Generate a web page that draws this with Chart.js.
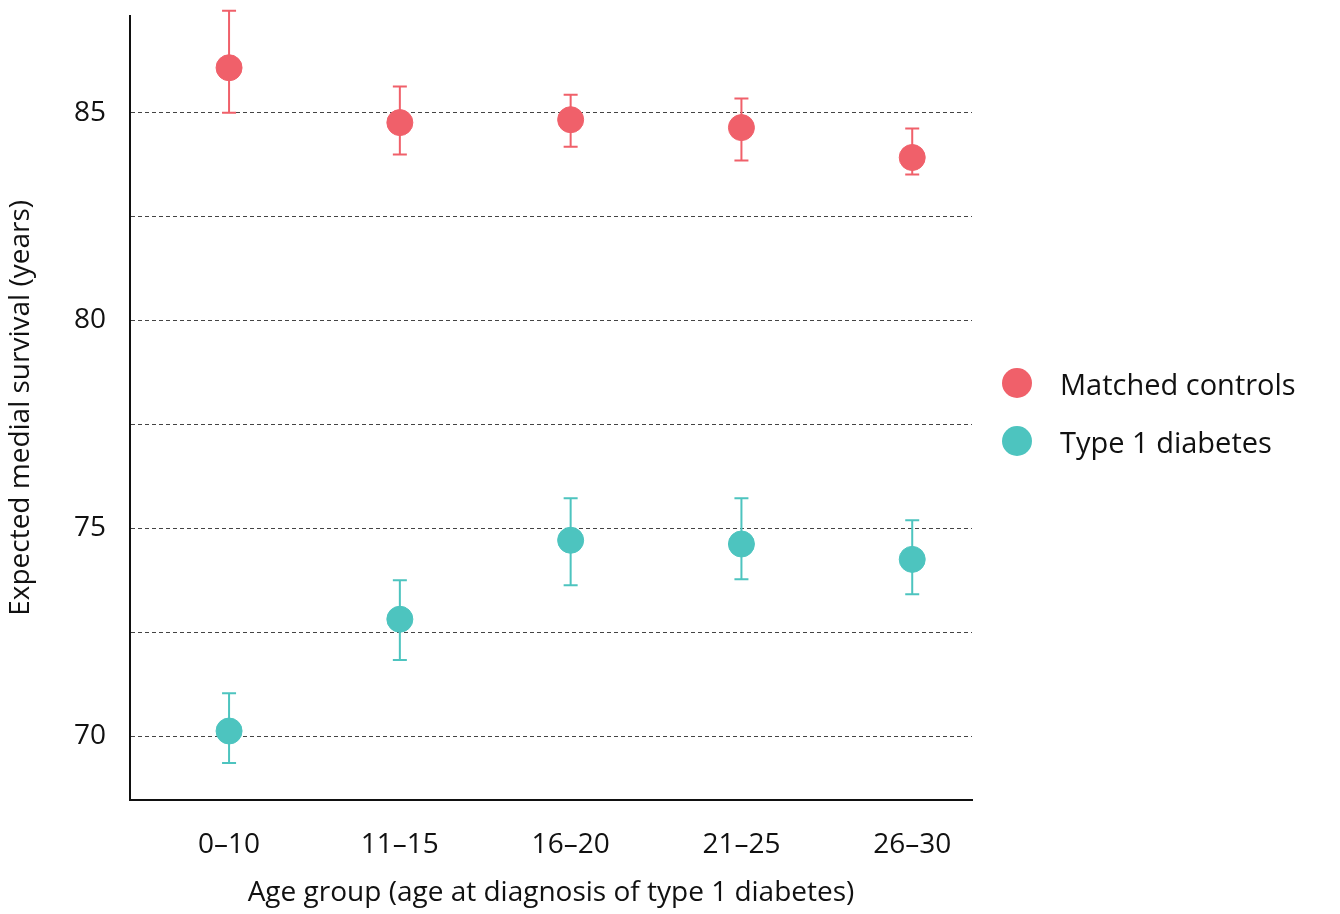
<!DOCTYPE html>
<html>
<head>
<meta charset="utf-8">
<script src="https://cdn.jsdelivr.net/npm/chart.js@4"></script>
<style>
  body { margin: 0; background: #fff; font-family: "Open Sans", sans-serif; overflow: hidden; }
  #wrap { position: relative; width: 1340px; height: 914px; overflow: hidden; }
  #chart { position: absolute; left: 0; top: -25px; }
  #legend { position: absolute; left: 1002px; top: 354px; font-size: 29px; color: #111; }
  .item { display: flex; align-items: center; height: 58px; }
  .dot { width: 30px; height: 30px; border-radius: 50%; margin-right: 28px; }
</style>
</head>
<body>
<div id="wrap">
  <canvas id="chart" width="1340" height="939"></canvas>
  <div id="legend">
    <div class="item"><span class="dot" style="background:#F0606A"></span>Matched controls</div>
    <div class="item"><span class="dot" style="background:#4DC4BF"></span>Type 1 diabetes</div>
  </div>
</div>
<script>
const categories = ['0–10', '11–15', '16–20', '21–25', '26–30'];
const controlsMid = [86.08, 84.76, 84.83, 84.64, 83.92];
const controlsLow = [85.0, 83.99, 84.18, 83.85, 83.51];
const controlsHigh = [87.45, 85.63, 85.43, 85.34, 84.62];
const diabetesMid = [70.12, 72.81, 74.71, 74.62, 74.25];
const diabetesLow = [69.35, 71.83, 73.63, 73.77, 73.41];
const diabetesHigh = [71.03, 73.75, 75.72, 75.72, 75.19];
const yTicks = [70, 72.5, 75, 77.5, 80, 82.5, 85];

const red = '#F0606A';
const teal = '#4DC4BF';

function points(values) {
    return values.map((v, i) => ({ x: i, y: v }));
}

// draw the whiskers behind the dots
const errorBars = {
    id: 'errorBars',
    beforeDatasetsDraw(chart) {
        const ctx = chart.ctx;
        const xs = chart.scales.x, ys = chart.scales.y;
        chart.data.datasets.forEach(ds => {
            ctx.save();
            ctx.strokeStyle = ds.backgroundColor;
            ctx.lineWidth = 2;
            ds.low.forEach((lo, i) => {
                const x = xs.getPixelForValue(i);
                const y1 = ys.getPixelForValue(lo);
                const y2 = ys.getPixelForValue(ds.high[i]);
                ctx.beginPath();
                ctx.moveTo(x, y1); ctx.lineTo(x, y2);
                ctx.moveTo(x - 7, y1); ctx.lineTo(x + 7, y1);
                ctx.moveTo(x - 7, y2); ctx.lineTo(x + 7, y2);
                ctx.stroke();
            });
            ctx.restore();
        });
    }
};

new Chart(document.getElementById('chart'), {
    type: 'scatter',
    data: {
        datasets: [
            { label: 'Matched controls', data: points(controlsMid), low: controlsLow, high: controlsHigh,
              backgroundColor: red, borderColor: red, pointRadius: 13, pointHoverRadius: 13 },
            { label: 'Type 1 diabetes', data: points(diabetesMid), low: diabetesLow, high: diabetesHigh,
              backgroundColor: teal, borderColor: teal, pointRadius: 13, pointHoverRadius: 13 }
        ]
    },
    options: {
        responsive: false,
        animation: false,
        layout: { padding: { top: 0, right: 368 } },
        plugins: { legend: { display: false }, tooltip: { enabled: false } },
        scales: {
            x: {
                type: 'linear', min: -0.58, max: 4.35,
                afterBuildTicks: s => { s.ticks = categories.map((c, i) => ({ value: i })); },
                afterFit: s => { s.height = 114; },
                ticks: { callback: v => categories[v], color: '#111', font: { family: 'Open Sans', size: 28 }, padding: 20, maxRotation: 0 },
                grid: { display: false },
                border: { display: true, color: '#111', width: 2 },
                title: { display: true, text: 'Age group (age at diagnosis of type 1 diabetes)', color: '#111',
                         font: { family: 'Open Sans', size: 28 }, padding: { top: 4 } }
            },
            y: {
                min: 68.46, max: 87.33,
                afterBuildTicks: s => { s.ticks = yTicks.map(v => ({ value: v })); },
                afterFit: s => { s.width = 130; },
                ticks: { callback: v => (v % 5 === 0 ? v : ''), color: '#111', font: { family: 'Open Sans', size: 28 }, padding: 24 },
                grid: { color: '#444', lineWidth: 1, drawTicks: false },
                border: { display: true, color: '#111', width: 2, dash: [4, 3] },
                title: { display: true, text: 'Expected medial survival (years)', color: '#111',
                         font: { family: 'Open Sans', size: 28 }, padding: { bottom: 4 } }
            }
        }
    },
    plugins: [errorBars]
});
</script>
</body>
</html>
